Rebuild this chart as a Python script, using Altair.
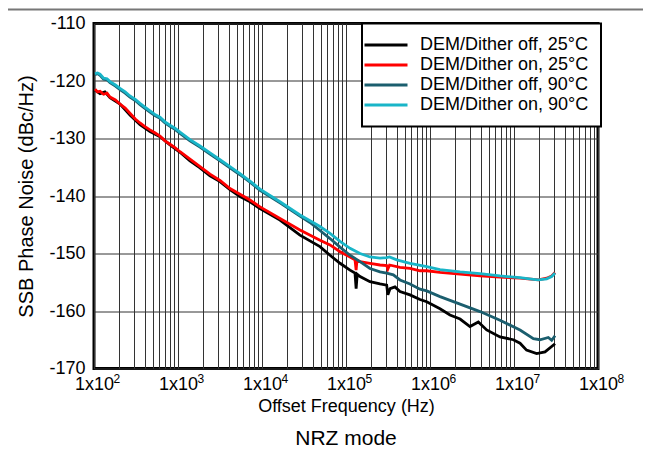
import altair as alt
import pandas as pd

series_names = ["DEM/Dither off, 25°C", "DEM/Dither on, 25°C",
                "DEM/Dither off, 90°C", "DEM/Dither on, 90°C"]
series_colors = ["#000000", "#ff0000", "#1b5e6e", "#19b5c8"]

off25_f = [102.8, 118, 135, 155, 204, 268, 353, 464, 611, 803, 1056, 1389, 1828, 2404, 3162,
           4159, 5471, 7197, 9467, 16370, 28300, 49000, 64500, 84900, 111600, 128000, 132000,
           136000, 146900, 193000, 254000, 305000, 315000, 335000, 383000, 439000, 578000,
           760000, 914000, 1.316e6, 1.73e6, 2.28e6, 2.99e6, 3.76e6, 4.73e6, 6.81e6, 9.82e6,
           1.18e7, 1.41e7, 1.86e7, 2.34e7, 3.08e7]
off25_v = [-121.6, -122.2, -121.9, -122.9, -124.0, -125.9, -127.6, -128.8, -129.7, -131.1, -132.4,
           -133.9, -135.1, -136.5, -137.5, -138.9, -140.1, -141.0, -142.2, -144.2, -146.8, -148.8,
           -150.3, -151.7, -152.9, -153.4, -156.1, -153.6, -154.0, -154.9, -155.3, -155.5, -157.2,
           -156.1, -155.8, -156.6, -157.2, -158.0, -158.4, -159.6, -160.7, -161.4, -162.7, -161.9,
           -163.3, -164.5, -165.0, -165.6, -166.8, -167.4, -167.1, -165.7]

on25_f = [102.8, 110, 118, 130, 143, 155, 180, 204, 235, 268, 310, 353, 400, 464, 530, 611, 700,
          803, 920, 1056, 1389, 1828, 2404, 3162, 4159, 5471, 7197, 9467, 16370, 28300, 49000,
          64500, 84900, 111600, 128000, 132000, 135000, 146900, 193000, 254000, 305000, 315000,
          330000, 439000, 578000, 760000, 914000, 1.316e6, 2.28e6, 3.94e6, 6.81e6, 1.18e7,
          1.70e7, 1.95e7, 2.45e7, 2.81e7, 3.08e7]
on25_v = [-121.4, -121.9, -121.8, -122.3, -122.1, -122.8, -123.3, -124.0, -124.7, -125.6, -126.6,
          -127.3, -127.9, -128.5, -129.0, -129.6, -130.4, -131.0, -131.6, -132.3, -133.6, -134.9,
          -136.2, -137.3, -138.7, -139.7, -140.7, -141.9, -143.9, -145.9, -147.7, -148.5, -149.7,
          -150.6, -151.1, -152.9, -151.2, -151.4, -151.7, -152.0, -152.1, -152.7, -152.0, -152.4,
          -152.6, -153.0, -153.0, -153.3, -153.6, -153.9, -154.1, -154.3, -154.5, -154.6, -154.3,
          -153.9, -153.3]

off90_f = [102.8, 110, 118, 130, 143, 155, 180, 204, 235, 268, 310, 353, 400, 464, 530, 611, 700,
           803, 920, 1056, 1389, 1828, 2404, 3162, 4159, 5471, 7197, 9467, 16370, 28300, 37260,
           49000, 64500, 84900, 111600, 146900, 193000, 254000, 305000, 366000, 439000, 578000,
           760000, 914000, 1.316e6, 2.28e6, 3.94e6, 6.81e6, 1.18e7, 1.70e7, 2.04e7, 2.56e7,
           2.81e7, 3.08e7]
off90_v = [-118.9, -118.7, -119.0, -119.7, -119.8, -120.3, -120.9, -121.5, -122.1, -122.8, -123.4,
           -124.1, -124.7, -125.4, -126.0, -126.5, -127.3, -127.9, -128.4, -129.1, -130.4, -131.5,
           -132.7, -133.9, -135.1, -136.3, -137.6, -139.0, -141.2, -143.5, -144.6, -146.0, -147.4,
           -148.9, -150.3, -151.4, -152.6, -153.2, -153.4, -153.7, -154.6, -155.3, -156.2, -156.5,
           -157.5, -158.8, -160.1, -161.6, -163.3, -164.8, -165.0, -164.6, -165.1, -164.3]

on90_f = [102.8, 110, 118, 130, 143, 155, 180, 204, 235, 268, 310, 353, 400, 464, 530, 611, 700,
          803, 920, 1056, 1389, 1828, 2404, 3162, 4159, 5471, 7197, 9467, 16370, 28300, 37260,
          49000, 64500, 84900, 111600, 146900, 193000, 254000, 305000, 330000, 402000, 578000,
          914000, 1.316e6, 2.28e6, 3.94e6, 6.81e6, 1.18e7, 1.70e7, 1.95e7, 2.45e7, 2.81e7, 3.08e7]
on90_v = [-118.7, -118.6, -118.8, -119.5, -119.6, -120.1, -120.7, -121.3, -121.9, -122.6, -123.2,
          -123.9, -124.5, -125.2, -125.8, -126.3, -127.1, -127.7, -128.2, -128.9, -130.2, -131.3,
          -132.5, -133.7, -134.9, -136.1, -137.4, -138.8, -141.0, -143.3, -144.3, -145.3, -146.5,
          -147.9, -149.1, -150.0, -150.6, -150.8, -150.7, -150.6, -151.1, -151.7, -152.3, -152.8,
          -153.2, -153.5, -153.9, -154.2, -154.5, -154.6, -154.4, -154.0, -153.4]

x_grid_values = [m * 10 ** e for e in range(2, 8) for m in range(1, 10)] + [10 ** 8]
decade_values = [1e2, 1e3, 1e4, 1e5, 1e6, 1e7, 1e8]
decade_exponents = ["2", "3", "4", "5", "6", "7", "8"]
y_values = [-170, -160, -150, -140, -130, -120, -110]

rows = []
for name, fs, vs in zip(series_names, [off25_f, on25_f, off90_f, on90_f],
                        [off25_v, on25_v, off90_v, on90_v]):
    for f, v in zip(fs, vs):
        rows.append({"series": name, "freq": f, "pn": v})
df = pd.DataFrame(rows)
exp_df = pd.DataFrame({"freq": decade_values, "exp": decade_exponents})

FONT = "Liberation Sans"

x_scale = alt.Scale(type="log", domain=[100, 1e8], nice=False)
label_expr = ("abs(log(datum.value)/LN10 - round(log(datum.value)/LN10)) < 0.001 ? '1x10' : ''")

lines = alt.Chart(df).mark_line(strokeWidth=2.8, clip=True).encode(
    x=alt.X("freq:Q", scale=x_scale,
            axis=alt.Axis(values=x_grid_values, labelExpr=label_expr, grid=True,
                          gridColor="#333333", gridWidth=1, gridOpacity=1,
                          ticks=False, domain=False, labelFontSize=18, labelPadding=7,
                          labelFlush=False, labelOverlap=False, labelColor="black",
                          title="Offset Frequency (Hz)", titleFontSize=18,
                          titleFontWeight="normal", titlePadding=4, titleColor="black")),
    y=alt.Y("pn:Q",
            scale=alt.Scale(domain=[-170, -110], nice=False, zero=False),
            axis=alt.Axis(values=y_values, labelExpr="'' + datum.value", grid=True,
                          gridColor="#333333", gridWidth=1,
                          gridOpacity=1, ticks=False, domain=False, labelFontSize=18,
                          labelPadding=9, labelColor="black",
                          title="SSB Phase Noise (dBc/Hz)", titleFontSize=20,
                          titleFontWeight="normal", titlePadding=12, titleColor="black")),
    color=alt.Color("series:N",
                    scale=alt.Scale(domain=series_names, range=series_colors),
                    sort=series_names,
                    legend=alt.Legend(title=None, orient="none", legendX=268, legendY=0,
                                      symbolType="M-4.3,0L4.3,0", symbolSize=100,
                                      symbolStrokeWidth=3, symbolOffset=2.5,
                                      labelOffset=25, labelFontSize=18, labelLimit=400,
                                      labelColor="black", rowPadding=2, padding=12.5,
                                      fillColor="white", strokeColor="black")),
)

exponents = alt.Chart(exp_df).mark_text(
    align="left", baseline="top", fontSize=12, dx=19.5, color="black"
).encode(
    x=alt.X("freq:Q", scale=x_scale),
    y=alt.value(350),
    text="exp:N",
)

top_rule = alt.Chart(pd.DataFrame({"a": [0]})).mark_rule(color="#777777", strokeWidth=2).encode(
    x=alt.value(-86), x2=alt.value(549), y=alt.value(-14)
)

chart = alt.layer(lines, exponents, top_rule).properties(
    width=504, height=345,
    padding={"left": 86, "top": 15.5, "right": 45, "bottom": 90},
    autosize=alt.AutoSizeParams(type="none"),
    title=alt.TitleParams("NRZ mode", orient="bottom", anchor="middle", fontSize=21,
                          fontWeight="normal", offset=12, color="black", font=FONT),
).configure(font=FONT).configure_view(
    stroke="black", strokeWidth=3
).configure_legend(strokeWidth=2)

chart.save("out.html", embed_options={"renderer": "svg", "actions": False})
